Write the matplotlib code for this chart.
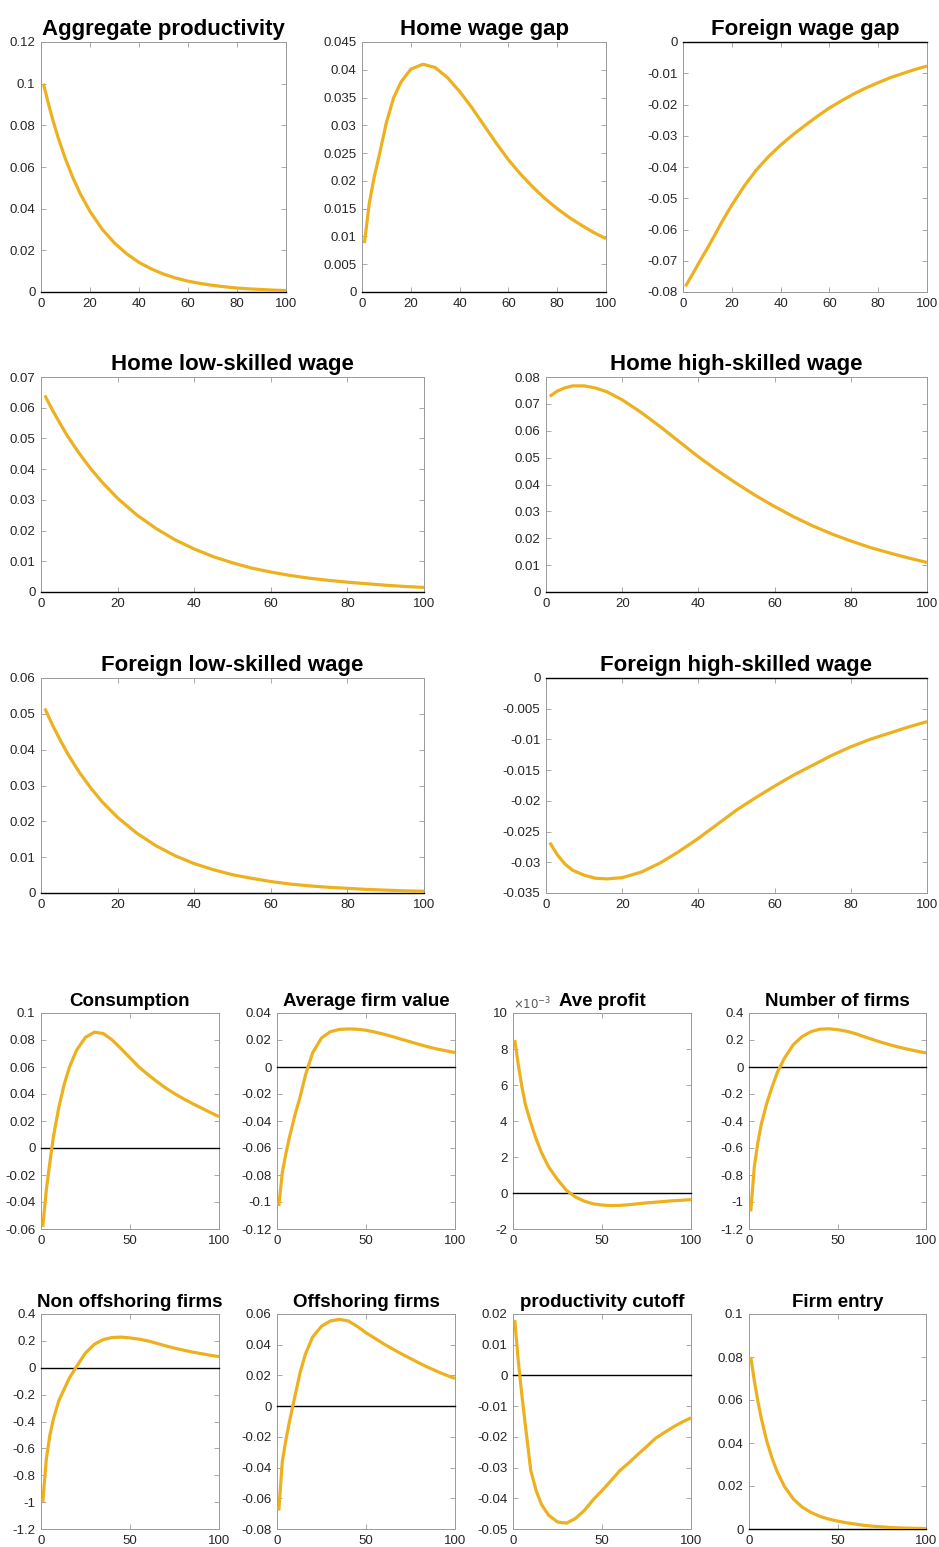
import numpy as np
import matplotlib
matplotlib.use('Agg')
import matplotlib.pyplot as plt
from matplotlib.ticker import FuncFormatter

# impulse responses at these periods
periods = [1, 3, 5, 7, 10, 13, 16, 20, 25, 30, 35, 40, 45, 50, 55, 60,
           65, 70, 75, 80, 85, 90, 95, 100]

agg_productivity = [0.1000, 0.0905, 0.0819, 0.0741, 0.0638, 0.0549, 0.0472, 0.0387,
                    0.0301, 0.0235, 0.0183, 0.0142, 0.0111, 0.0086, 0.0067, 0.0052,
                    0.0041, 0.0032, 0.0025, 0.0019, 0.0015, 0.0012, 0.0009, 0.0007]
home_wage_gap = [0.0088, 0.0160, 0.0207, 0.0245, 0.0305, 0.0350, 0.0378, 0.0401,
                 0.0410, 0.0404, 0.0386, 0.0361, 0.0332, 0.0300, 0.0268, 0.0238,
                 0.0212, 0.0189, 0.0168, 0.0150, 0.0134, 0.0120, 0.0107, 0.0096]
foreign_wage_gap = [-0.0782, -0.0755, -0.0728, -0.0700, -0.0660, -0.0618, -0.0575, -0.0522,
                    -0.0462, -0.0410, -0.0367, -0.0330, -0.0297, -0.0267, -0.0238, -0.0211,
                    -0.0188, -0.0166, -0.0147, -0.0130, -0.0114, -0.0101, -0.0088, -0.0077]
home_low_wage = [0.0640, 0.0592, 0.0548, 0.0506, 0.0451, 0.0401, 0.0357, 0.0305,
                 0.0251, 0.0207, 0.0170, 0.0140, 0.0115, 0.0095, 0.0078, 0.0065,
                 0.0054, 0.0045, 0.0038, 0.0032, 0.0027, 0.0022, 0.0018, 0.0015]
home_high_wage = [0.0728, 0.0748, 0.0760, 0.0767, 0.0767, 0.0759, 0.0745, 0.0715,
                  0.0668, 0.0615, 0.0559, 0.0503, 0.0452, 0.0404, 0.0359, 0.0318,
                  0.0280, 0.0246, 0.0216, 0.0190, 0.0166, 0.0146, 0.0127, 0.0110]
foreign_low_wage = [0.0515, 0.0469, 0.0427, 0.0388, 0.0337, 0.0293, 0.0254, 0.0211,
                    0.0167, 0.0132, 0.0104, 0.0082, 0.0065, 0.0051, 0.0041, 0.0032,
                    0.0025, 0.0020, 0.0016, 0.0013, 0.0010, 0.0008, 0.0006, 0.0005]
foreign_high_wage = [-0.0268, -0.0288, -0.0303, -0.0313, -0.0321, -0.0326, -0.0327, -0.0325,
                     -0.0316, -0.0301, -0.0282, -0.0261, -0.0238, -0.0215, -0.0195, -0.0176,
                     -0.0158, -0.0142, -0.0126, -0.0112, -0.0100, -0.0090, -0.0080, -0.0071]
consumption = [-0.0585, -0.0310, -0.0105, 0.0085, 0.0300, 0.0470, 0.0600, 0.0725,
               0.0820, 0.0858, 0.0848, 0.0800, 0.0736, 0.0668, 0.0600, 0.0545,
               0.0493, 0.0445, 0.0403, 0.0365, 0.0330, 0.0297, 0.0264, 0.0232]
avg_firm_value = [-0.1030, -0.0780, -0.0640, -0.0520, -0.0360, -0.0220, -0.0060, 0.0105,
                  0.0215, 0.0262, 0.0278, 0.0282, 0.0280, 0.0272, 0.0259, 0.0243,
                  0.0225, 0.0205, 0.0186, 0.0167, 0.0149, 0.0133, 0.0120, 0.0107]
ave_profit = [8.5e-3, 7.1e-3, 5.9e-3, 4.9e-3, 3.9e-3, 3.0e-3, 2.25e-3, 1.45e-3,
              0.75e-3, 0.15e-3, -0.22e-3, -0.45e-3, -0.60e-3, -0.67e-3, -0.70e-3, -0.69e-3,
              -0.65e-3, -0.60e-3, -0.55e-3, -0.51e-3, -0.47e-3, -0.43e-3, -0.40e-3, -0.37e-3]
num_firms = [-1.07, -0.74, -0.56, -0.42, -0.27, -0.15, -0.04, 0.065,
             0.165, 0.225, 0.262, 0.280, 0.283, 0.277, 0.265, 0.248,
             0.225, 0.203, 0.182, 0.163, 0.146, 0.131, 0.117, 0.104]
non_offshoring = [-1.00, -0.68, -0.50, -0.38, -0.245, -0.16, -0.075, 0.01,
                  0.11, 0.175, 0.210, 0.225, 0.228, 0.222, 0.213, 0.200,
                  0.182, 0.163, 0.146, 0.131, 0.117, 0.105, 0.093, 0.083]
offshoring = [-0.068, -0.036, -0.022, -0.010, 0.006, 0.022, 0.034, 0.045,
              0.052, 0.0555, 0.0565, 0.0555, 0.0520, 0.0478, 0.0442, 0.0405,
              0.0372, 0.0340, 0.0310, 0.0280, 0.0252, 0.0226, 0.0202, 0.0180]
prod_cutoff = [0.0180, 0.0045, -0.0065, -0.0165, -0.0310, -0.0375, -0.0420, -0.0455,
               -0.0477, -0.0481, -0.0466, -0.0440, -0.0405, -0.0375, -0.0343, -0.0310,
               -0.0285, -0.0258, -0.0232, -0.0205, -0.0186, -0.0168, -0.0152, -0.0138]
firm_entry = [0.0800, 0.0690, 0.0595, 0.0513, 0.0410, 0.0330, 0.0265, 0.0198,
              0.0140, 0.0102, 0.0077, 0.0059, 0.0046, 0.0037, 0.0029, 0.0023,
              0.0017, 0.0013, 0.0010, 0.0007, 0.0005, 0.0004, 0.0003, 0.0002]

W, H = 939, 1547
LINE_COLOR = '#EDB120'
BOX_COLOR = '#9a9a9a'
TEXT_COLOR = '#262626'

plt.rcParams['font.family'] = ['Liberation Sans', 'DejaVu Sans']
plt.rcParams['axes.unicode_minus'] = False


def tick_label(v, pos):
    # MATLAB style: shortest form, no "-0"
    return '%g' % (round(v, 6) + 0.0)


def add_panel(fig, box, title, values, ylim, ystep, xstep, title_size, scale=1.0):
    left, top, right, bottom = box
    ax = fig.add_axes([left / W, 1 - bottom / H, (right - left) / W, (bottom - top) / H])
    # zero line sits above the box so it stays dark where it meets the frame
    ax.plot([0, 100], [0, 0], color='black', lw=1.0, zorder=2.6, clip_on=False)
    ax.plot(periods, np.array(values) * scale, color=LINE_COLOR, lw=2.3,
            solid_capstyle='butt', solid_joinstyle='round', zorder=3)
    ax.set_xlim(0, 100)
    ax.set_ylim(ylim[0] * scale, ylim[1] * scale)
    ax.set_xticks(np.arange(0, 101, xstep))
    yt = np.round(np.arange(ylim[0], ylim[1] + ystep / 2, ystep) * scale, 6) + 0.0
    ax.set_yticks(yt)
    ax.yaxis.set_major_formatter(FuncFormatter(tick_label))
    ax.tick_params(direction='in', top=True, right=True, length=3.5, width=0.6,
                   color=BOX_COLOR, labelcolor=TEXT_COLOR, labelsize=9.5, pad=4)
    for s in ax.spines.values():
        s.set_color(BOX_COLOR)
        s.set_linewidth(0.7)
    ax.set_title(title, fontsize=title_size, fontweight='bold', pad=5)
    return ax


def main():
    fig = plt.figure(figsize=(W / 100, H / 100), dpi=100)

    big = 16
    small = 13.5
    add_panel(fig, (41, 42, 286, 292), 'Aggregate productivity', agg_productivity,
              (0, 0.12), 0.02, 20, big)
    add_panel(fig, (362, 42, 606, 292), 'Home wage gap', home_wage_gap,
              (0, 0.045), 0.005, 20, big)
    add_panel(fig, (683, 42, 927, 292), 'Foreign wage gap', foreign_wage_gap,
              (-0.08, 0), 0.01, 20, big)

    add_panel(fig, (41, 377, 424, 592), 'Home low-skilled wage', home_low_wage,
              (0, 0.07), 0.01, 20, big)
    add_panel(fig, (546, 377, 927, 592), 'Home high-skilled wage', home_high_wage,
              (0, 0.08), 0.01, 20, big)

    add_panel(fig, (41, 678, 424, 893), 'Foreign low-skilled wage', foreign_low_wage,
              (0, 0.06), 0.01, 20, big)
    add_panel(fig, (546, 678, 927, 893), 'Foreign high-skilled wage', foreign_high_wage,
              (-0.035, 0), 0.005, 20, big)

    add_panel(fig, (41, 1013, 219, 1229), 'Consumption', consumption,
              (-0.06, 0.1), 0.02, 50, small)
    add_panel(fig, (277, 1013, 455, 1229), 'Average firm value', avg_firm_value,
              (-0.12, 0.04), 0.02, 50, small)
    ax = add_panel(fig, (513, 1013, 691, 1229), 'Ave profit', ave_profit,
                   (-0.002, 0.01), 0.002, 50, small, scale=1e3)
    ax.text(0.0, 1.005, r'$\times10^{-3}$', transform=ax.transAxes, fontsize=8.5,
            color='#555555', ha='left', va='bottom')
    add_panel(fig, (749, 1013, 926, 1229), 'Number of firms', num_firms,
              (-1.2, 0.4), 0.2, 50, small)

    add_panel(fig, (41, 1314, 219, 1529), 'Non offshoring firms', non_offshoring,
              (-1.2, 0.4), 0.2, 50, small)
    add_panel(fig, (277, 1314, 455, 1529), 'Offshoring firms', offshoring,
              (-0.08, 0.06), 0.02, 50, small)
    add_panel(fig, (513, 1314, 691, 1529), 'productivity cutoff', prod_cutoff,
              (-0.05, 0.02), 0.01, 50, small)
    add_panel(fig, (749, 1314, 926, 1529), 'Firm entry', firm_entry,
              (0, 0.1), 0.02, 50, small)

    fig.savefig('out.png', dpi=100, facecolor='white')


if __name__ == '__main__':
    main()
